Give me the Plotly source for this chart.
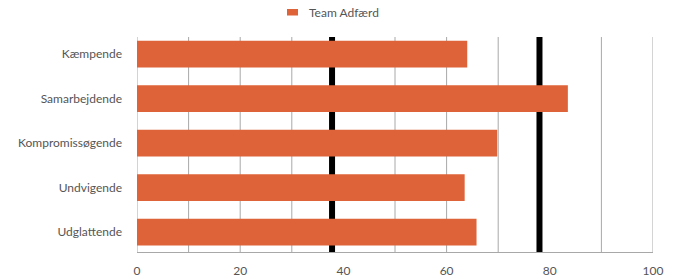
import plotly.graph_objects as go

categories = ["Kæmpende", "Samarbejdende", "Kompromissøgende", "Undvigende", "Udglattende"]
values = [64, 83.5, 69.8, 63.5, 65.8]
series_name = "Team Adfærd"
ref_lines = [37.8, 78]
x_ticks = [0, 20, 40, 60, 80, 100]
grid_vals = [0, 10, 20, 30, 50, 60, 70, 90, 100]

BAR_COLOR = "#DF6338"
GRID = "#A8A8A8"
TEXT = "#555555"
FONT = "Lato, 'Open Sans', sans-serif"

# plot-area geometry (pixels) used to place the hand-made legend
L, R, T, B = 137, 20, 37, 27
W, H = 673, 279
PW, PH = W - L - R, H - T - B

def px_x(p):
    return (p - L) / PW

def px_y(p):
    return (H - B - p) / PH

fig = go.Figure()
fig.add_trace(go.Bar(
    y=categories,
    x=values,
    orientation="h",
    name=series_name,
    marker=dict(color=BAR_COLOR, line=dict(width=0)),
    width=0.6,
    showlegend=False,
))

for g in grid_vals:
    fig.add_shape(type="line", xref="x", yref="paper", x0=g, x1=g, y0=0, y1=1,
                  line=dict(color=GRID, width=1), layer="below")

for v in ref_lines:
    fig.add_shape(type="line", xref="x", yref="paper", x0=v, x1=v, y0=0, y1=1,
                  line=dict(color="black", width=6), layer="below")

# legend (swatch + label)
fig.add_shape(type="rect", xref="paper", yref="paper",
              x0=px_x(287), x1=px_x(298), y0=px_y(15.5), y1=px_y(9),
              fillcolor=BAR_COLOR, line=dict(width=0))
fig.add_annotation(xref="paper", yref="paper", x=px_x(307), y=px_y(12.3),
                   xanchor="left", yanchor="middle", showarrow=False,
                   text=series_name, font=dict(size=12, color=TEXT))

fig.update_layout(
    width=W, height=H,
    margin=dict(l=L, r=R, t=T, b=B, pad=0, autoexpand=False),
    paper_bgcolor="white", plot_bgcolor="white",
    font=dict(family=FONT, size=12, color=TEXT),
    showlegend=False,
    xaxis=dict(range=[0, 100], tickvals=x_ticks, showgrid=False, automargin=False,
               zeroline=False, showline=True, linecolor=GRID, linewidth=1,
               ticks="", ticklabelstandoff=8,
               tickfont=dict(size=12, color=TEXT)),
    yaxis=dict(categoryorder="array", categoryarray=categories, automargin=False,
               range=[4.445, -0.387], showgrid=False, zeroline=False,
               showline=False, ticks="", ticklabelstandoff=14,
               tickfont=dict(size=12, color=TEXT)),
    bargap=0.4,
)

fig.write_html("out.html", config={"displayModeBar": False},
               post_script="document.body.style.margin='0';document.body.style.overflow='hidden';")
